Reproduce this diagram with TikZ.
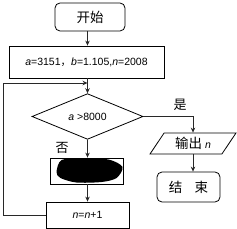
\documentclass[tikz,border=0pt]{standalone}
\usepackage{fontspec}
\setmainfont{Liberation Sans}
\newfontfamily\cjk{Noto Sans CJK SC}
\usetikzlibrary{
  positioning,
  shapes.geometric,
  arrows.meta,
  calc
}
\definecolor{linecol}{RGB}{40,40,40}
\tikzset{
  termbox/.style={
    rectangle,
    draw,
    rounded corners=5pt,
    line width=0.8pt,
    font=\fontsize{13.5}{15}\cjk
  },
  procbox/.style={
    rectangle,
    draw,
    line width=0.8pt,
    inner sep=0pt,
    font=\fontsize{10.5}{12}\selectfont
  },
  decision/.style={
    diamond,
    draw,
    line width=0.8pt,
    inner sep=0pt,
    minimum width=111pt,
    minimum height=45pt,
    font=\fontsize{10.5}{12}\selectfont
  },
  iobox/.style={
    trapezium,
    draw,
    line width=0.8pt,
    trapezium left angle=55,
    trapezium right angle=125,
    trapezium stretches=true,
    inner sep=0pt,
    minimum width=86pt,
    minimum height=21pt,
    font=\fontsize{10.5}{12}\selectfont
  },
  arrow/.style={
    -{Stealth[length=5pt,width=4.5pt]},
    line width=0.8pt,
    color=linecol
  },
  cjklabel/.style={
    font=\fontsize{13}{15}\cjk
  }
}

\begin{document}
\begin{tikzpicture}[x=1pt,y=1pt]
  \useasboundingbox (0,0) rectangle (237,-229);

  % Start and initial values
  \node[termbox, minimum width=70pt, minimum height=28pt] (start) at (90,-17) {开始};
  \node[procbox, minimum width=155pt, minimum height=32pt] (init) at (86.5,-62)
    {\textit{a}=3151{\cjk ，}\textit{b}=1.105,\textit{n}=2008};

  % Loop test
  \node[decision] (cond) at (87.5,-116.5) {\textit{a} >8000};
  \node[cjklabel] (yes) at (180,-105) {是};
  \node[cjklabel] (no) at (62,-148) {否};

  % Hidden step and counter
  \node[procbox, minimum width=73pt, minimum height=26pt] (hidden) at (86.5,-171) {};
  \fill[black] plot[smooth cycle] coordinates {
    ($(hidden)+(-30,-1)$) ($(hidden)+(-25,11)$) ($(hidden)+(-5,12.5)$)
    ($(hidden)+(22,11.5)$) ($(hidden)+(36,4)$) ($(hidden)+(30,-7)$)
    ($(hidden)+(15,-11)$) ($(hidden)+(-10,-11.5)$) ($(hidden)+(-26,-7)$)};
  \node[procbox, minimum width=83pt, minimum height=26pt] (inc) at (87.5,-215)
    {\textit{n}=\textit{n}+1};

  % Output and end
  \node[iobox] (out) at (193,-143.5) {{\cjk\fontsize{13.5}{15}\selectfont 输出} \textit{n}};
  \node[termbox, minimum width=63pt, minimum height=30pt] (stop) at (188.5,-187) {结\hspace{0.9em}束};

  % Main arrows
  \draw[arrow] (start.south -| cond) -- (init.north -| cond);
  \draw[arrow] (init.south -| cond) -- (cond.north);
  \draw[arrow] (cond.south) -- (hidden.north -| cond);
  \draw[arrow] (hidden.south -| cond) -- (inc.north);
  \draw[arrow] (cond.east) -| (out.north);
  \draw[arrow] (out.south) -- (out.south |- stop.north);

  % Back to the test
  \coordinate (join) at ($(init.south -| cond)!0.31!(cond.north)$);
  \draw[arrow] (inc.west) -- ++(-42,0) |- (join);

\end{tikzpicture}
\end{document}
